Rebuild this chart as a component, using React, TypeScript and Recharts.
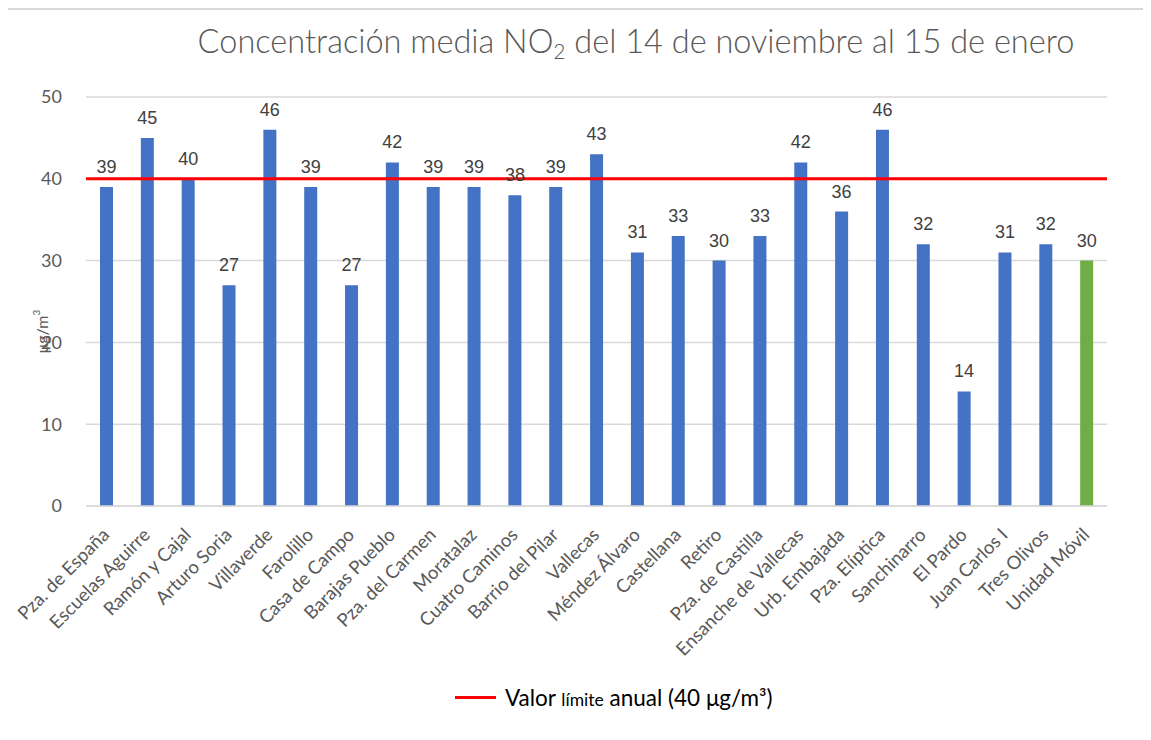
import { BarChart, Bar, XAxis, YAxis, CartesianGrid, ReferenceLine, Cell, LabelList } from "recharts"

const stations = [
  "Pza. de España", "Escuelas Aguirre", "Ramón y Cajal", "Arturo Soria", "Villaverde",
  "Farolillo", "Casa de Campo", "Barajas Pueblo", "Pza. del Carmen", "Moratalaz",
  "Cuatro Caminos", "Barrio del Pilar", "Vallecas", "Méndez Álvaro", "Castellana",
  "Retiro", "Pza. de Castilla", "Ensanche de Vallecas", "Urb. Embajada", "Pza. Elíptica",
  "Sanchinarro", "El Pardo", "Juan Carlos I", "Tres Olivos", "Unidad Móvil",
]
const no2 = [39, 45, 40, 27, 46, 39, 27, 42, 39, 39, 38, 39, 43, 31, 33, 30, 33, 42, 36, 46, 32, 14, 31, 32, 30]
const yTicks = [0, 10, 20, 30, 40, 50]
const limit = 40

const data = stations.map((name, i) => ({ name, value: no2[i] }))

const FONT = "Lato, 'Open Sans', sans-serif"

function XTick({ x, y, payload }: any) {
  return (
    <g transform={`translate(${x + 4},${y + 22}) rotate(-45)`}>
      <text x={0} y={0} textAnchor="end" fill="#595959" fontSize={18.5} fontFamily={FONT}>
        {payload.value}
      </text>
    </g>
  )
}

function UnitLabel({ viewBox }: any) {
  const cx = viewBox.x + 2
  const cy = viewBox.y + viewBox.height / 2 + 30
  return (
    <text transform={`translate(${cx},${cy}) rotate(-90)`} textAnchor="middle" fill="#595959" fontSize={16} fontFamily={FONT}>
      μg/m<tspan fontSize={10} dy={-8}>3</tspan>
    </text>
  )
}

export default function App() {
  return (
    <div style={{ position: "relative", width: 1151, height: 740, margin: -8, background: "#fff", overflow: "hidden" }}>
      <div style={{ position: "absolute", left: 5, top: 8, width: 1200, height: 800, borderLeft: "2px solid #d9d9d9", borderTop: "2px solid #d9d9d9" }} />
      <div style={{ position: "absolute", left: 0, width: 1272, top: 21, textAlign: "center", fontFamily: FONT, fontWeight: 300, fontSize: 32.5, color: "#595959", whiteSpace: "nowrap" }}>
        Concentración media NO<sub style={{ fontSize: 21, verticalAlign: -6 }}>2</sub> del 14 de noviembre al 15 de enero
      </div>
      <BarChart
        width={1151}
        height={740}
        data={data}
        margin={{ top: 97, right: 44, left: 46, bottom: 84 }}
        style={{ position: "absolute", left: 0, top: 0 }}
      >
        <CartesianGrid vertical={false} stroke="#d9d9d9" strokeWidth={1.5} />
        <XAxis dataKey="name" interval={0} height={150} tick={<XTick />} tickLine={false} axisLine={{ stroke: "#d9d9d9", strokeWidth: 1.5 }} />
        <YAxis
          domain={[0, 50]}
          ticks={yTicks}
          width={40}
          axisLine={false}
          tickLine={false}
          tickMargin={18}
          tick={{ fill: "#595959", fontSize: 18, fontFamily: FONT }}
          label={<UnitLabel />}
        />
        <Bar dataKey="value" barSize={13} isAnimationActive={false}>
          {data.map((d, i) => (
            <Cell key={d.name} fill={i === data.length - 1 ? "#70ad47" : "#4472c4"} />
          ))}
          <LabelList dataKey="value" position="top" offset={14} fill="#404040" fontSize={18} fontFamily="'Liberation Sans', Arial, sans-serif" />
        </Bar>
        <ReferenceLine y={limit} stroke="#ff0000" strokeWidth={3} />
      </BarChart>
      <div style={{ position: "absolute", left: 455, top: 684, display: "flex", alignItems: "center", color: "#000", fontFamily: FONT }}>
        <span style={{ display: "inline-block", width: 41, height: 3, background: "#ff0000", marginRight: 9 }} />
        <span style={{ fontSize: 22.5 }}>
          Valor <span style={{ fontSize: 17.5 }}>límite</span> anual (40 μg/m³)
        </span>
      </div>
    </div>
  )
}
